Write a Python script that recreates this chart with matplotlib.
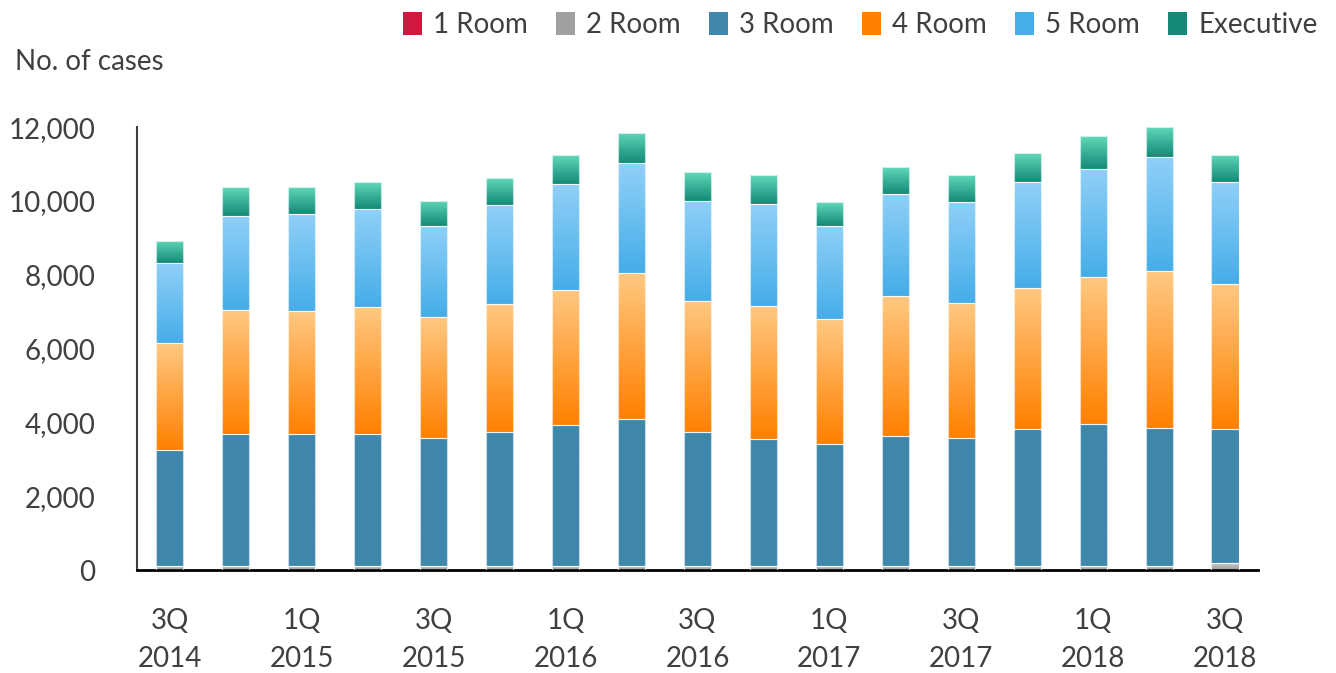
import numpy as np
import matplotlib
matplotlib.use("Agg")
import matplotlib.pyplot as plt
from matplotlib.colors import LinearSegmentedColormap
from matplotlib.patches import Patch

plt.rcParams["font.family"] = ["Lato", "DejaVu Sans"]

# --- data (no. of cases per quarter, by flat type) ---
quarters = ["3Q\n2014", "4Q\n2014", "1Q\n2015", "2Q\n2015", "3Q\n2015", "4Q\n2015",
            "1Q\n2016", "2Q\n2016", "3Q\n2016", "4Q\n2016", "1Q\n2017", "2Q\n2017",
            "3Q\n2017", "4Q\n2017", "1Q\n2018", "2Q\n2018", "3Q\n2018"]
room1 = [10, 10, 10, 10, 10, 10, 10, 10, 10, 10, 10, 10, 10, 10, 10, 10, 10]
room2 = [110, 110, 110, 110, 110, 110, 110, 110, 110, 110, 110, 110, 110, 110, 110, 110, 170]
room3 = [3130, 3560, 3560, 3560, 3470, 3610, 3800, 3970, 3610, 3420, 3290, 3520,
         3470, 3700, 3830, 3740, 3640]
room4 = [2890, 3370, 3330, 3460, 3270, 3470, 3680, 3960, 3550, 3610, 3380, 3780,
         3650, 3830, 3980, 4240, 3920]
room5 = [2180, 2550, 2640, 2650, 2470, 2680, 2870, 2970, 2730, 2780, 2540, 2780,
         2740, 2870, 2950, 3100, 2780]
executive = [600, 780, 730, 730, 680, 730, 780, 830, 780, 780, 650, 730,
             730, 770, 880, 800, 740]

labels = ["1 Room", "2 Room", "3 Room", "4 Room", "5 Room", "Executive"]
series = [room1, room2, room3, room4, room5, executive]
# (top colour, bottom colour) of each gradient
grads = [("#F0607A", "#D01840"), ("#C8C8C8", "#A0A0A0"), ("#3F87AB", "#3F87AB"),
         ("#FFC882", "#FF8000"), ("#90D0F8", "#45ADE8"), ("#60D8BA", "#128A76")]

fig = plt.figure(figsize=(13.36, 6.73), dpi=100)
ax = fig.add_axes([0.1025, 0.153, 0.8391, 0.658])

x = np.arange(len(quarters))
width = 0.41
bottom = np.zeros(len(quarters))
for vals, (ctop, cbot) in zip(series, grads):
    vals = np.array(vals, dtype=float)
    bars = ax.bar(x, vals, width, bottom=bottom, facecolor="none",
                  edgecolor=(1, 1, 1, 0.7), linewidth=0.8, zorder=3)
    cmap = LinearSegmentedColormap.from_list("g", [cbot, ctop])
    grad = np.linspace(0, 1, 256).reshape(-1, 1)
    for b, xi, b0, v in zip(bars, x, bottom, vals):
        im = ax.imshow(grad, cmap=cmap, origin="lower", aspect="auto",
                       extent=[xi - width / 2, xi + width / 2, b0, b0 + v], zorder=2)
        im.set_clip_path(b)
    bottom += vals

ax.set_xlim(-0.5, len(quarters) - 0.5)
ax.set_ylim(0, 12000)
ax.set_yticks(range(0, 12001, 2000))
ax.yaxis.set_major_formatter(matplotlib.ticker.StrMethodFormatter("{x:,.0f}"))
ax.set_xticks(x[::2])
ax.set_xticklabels(quarters[::2], linespacing=1.6)

for s in ["top", "right"]:
    ax.spines[s].set_visible(False)
ax.spines["left"].set_color("#404040")
ax.spines["left"].set_linewidth(1.5)
ax.spines["bottom"].set_color("black")
ax.spines["bottom"].set_linewidth(2)
ax.tick_params(axis="both", length=0, labelsize=20, colors="#404040")
ax.tick_params(axis="y", pad=30)
ax.tick_params(axis="x", pad=27)
ax.set_facecolor("white")

fig.text(0.011, 0.908, "No. of cases", fontsize=20, color="#404040", va="center")

handles = [Patch(facecolor=c[1], edgecolor="none") for c in grads]
fig.legend(handles, labels, loc="upper right", bbox_to_anchor=(1.005, 1.02), ncol=6,
           frameon=False, fontsize=20, handlelength=0.7, handleheight=0.9,
           handletextpad=0.4, columnspacing=1.0, labelcolor="#404040")

fig.savefig("out.png", dpi=100)
